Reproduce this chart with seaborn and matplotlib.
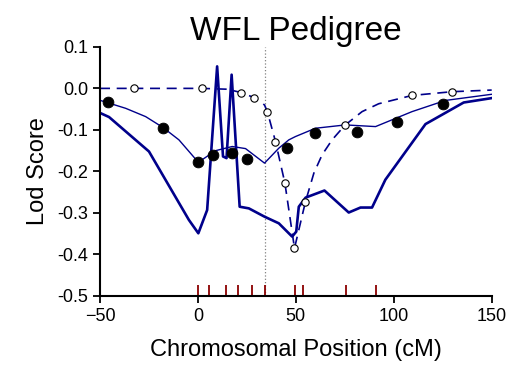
import numpy as np
import pandas as pd
import seaborn as sns
import matplotlib.pyplot as plt

# data
thick_x = [-50.5, -45.4, -25, -4.6, 0.2, 4.7, 9.8, 12.8, 14.6, 17.2, 21.3, 26, 34, 41.3, 46.4,
           48.1, 50.2, 51.5, 55, 64.6, 77, 83, 88.9, 95.7, 116.2, 135.7, 151.9]
thick_y = [-0.058, -0.069, -0.152, -0.317, -0.349, -0.293, 0.053, -0.164, -0.168, 0.033, -0.285, -0.289, -0.309, -0.325, -0.349,
           -0.357, -0.345, -0.285, -0.263, -0.246, -0.299, -0.287, -0.287, -0.220, -0.086, -0.034, -0.022]

thin_x = [-50.5, -36.9, -26.7, -17.9, -9.7, 0.2, 9, 17.5, 24.3, 34, 41.3, 46.4, 49.8, 60, 75.3, 90.7, 109.3, 126.4, 151.9]
thin_y = [-0.028, -0.048, -0.068, -0.094, -0.124, -0.178, -0.150, -0.140, -0.145, -0.180, -0.144, -0.124, -0.116, -0.096, -0.088, -0.092, -0.056, -0.029, -0.013]

dash_x = [-50, -32.8, 1.9, 15, 22, 28.6, 34, 35.5, 39.6, 44.4, 49.3, 54.9, 59.2, 63.4, 68.5, 75, 83.8, 92.3, 109.3, 129.7, 150]
dash_y = [0, 0, 0, -0.002, -0.010, -0.022, -0.040, -0.057, -0.128, -0.228, -0.385, -0.273, -0.204, -0.160, -0.124, -0.089, -0.056, -0.037, -0.017, -0.008, -0.004]

dot_x = [-45.9, -17.9, 0.2, 7.8, 17.5, 25.3, 45.3, 60, 81, 101.5, 125]
dot_y = [-0.0325, -0.095, -0.178, -0.160, -0.155, -0.169, -0.143, -0.107, -0.104, -0.082, -0.037]

open_x = [-32.8, 1.9, 22, 28.6, 35.5, 39.6, 44.4, 49.3, 54.9, 75, 109.3, 129.7]
open_y = [0, 0, -0.010, -0.022, -0.057, -0.128, -0.228, -0.385, -0.273, -0.089, -0.017, -0.008]

marker_pos = [0, 5.8, 14.1, 20.7, 27.4, 34.3, 49.5, 53.8, 75.8, 90.8]
peak_pos = 34.3

sns.set_style("ticks")
plt.rcParams['font.family'] = ['Liberation Sans', 'DejaVu Sans']
plt.rcParams['text.color'] = 'black'
plt.rcParams['axes.labelcolor'] = 'black'
plt.rcParams['xtick.color'] = 'black'
plt.rcParams['ytick.color'] = 'black'

fig = plt.figure(figsize=(5.14, 3.78), dpi=100)
ax = fig.add_axes([0.1946, 0.217, 0.762, 0.659])

navy = "#00008b"
ax.axvline(peak_pos, color="gray", linestyle=":", linewidth=0.9, zorder=1)
ax.vlines(marker_pos, -0.5, -0.4735, color="#8b0000", linewidth=1.3, zorder=2)

sns.lineplot(x=thick_x, y=thick_y, sort=False, color=navy, linewidth=1.9, ax=ax)
sns.lineplot(x=thin_x, y=thin_y, sort=False, color=navy, linewidth=1.0, ax=ax)
sns.lineplot(x=dash_x, y=dash_y, sort=False, color=navy, linewidth=1.2, ax=ax)
ax.lines[-1].set_linestyle((0, (6, 4)))
sns.scatterplot(x=dot_x, y=dot_y, color="black", s=60, edgecolor="black", ax=ax, zorder=4)
sns.scatterplot(x=open_x, y=open_y, color="white", s=28, edgecolor="black", linewidth=0.8, ax=ax, zorder=4)

ax.set_xlim(-50, 150)
ax.set_ylim(-0.5, 0.1)
ax.set_xticks([-50, 0, 50, 100, 150])
ax.set_yticks(np.arange(-0.5, 0.11, 0.1))
ax.set_yticklabels(["-0.5", "-0.4", "-0.3", "-0.2", "-0.1", "0.0", "0.1"])
ax.tick_params(labelsize=13, width=1.3, length=5, color="black")
for s in ["left", "bottom"]:
    ax.spines[s].set_linewidth(1.5)
    ax.spines[s].set_color("black")
sns.despine(ax=ax)

ax.set_xlabel("Chromosomal Position (cM)", fontsize=17, labelpad=10)
ax.set_ylabel("Lod Score", fontsize=17, labelpad=6)
ax.set_title("WFL Pedigree", fontsize=24, pad=3)

fig.savefig("out.png", dpi=100)
